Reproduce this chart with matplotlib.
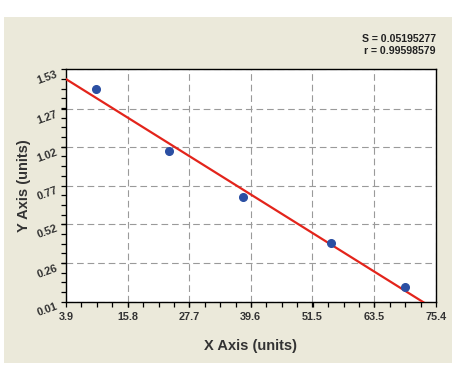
import numpy as np
import matplotlib
matplotlib.use("Agg")
import matplotlib.pyplot as plt
from matplotlib.patches import Rectangle

# Data
x_vals = [9.7, 23.8, 38.2, 55.2, 69.5]
y_vals = [1.40, 0.998, 0.697, 0.392, 0.104]
x_ticks = [3.9, 15.8, 27.7, 39.6, 51.5, 63.5, 75.4]
y_ticks = [0.01, 0.26, 0.52, 0.77, 1.02, 1.27, 1.53]
stat_lines = ["S = 0.05195277", "r = 0.99598579"]

plt.rcParams['font.family'] = ['Liberation Sans', 'DejaVu Sans']

W, H = 462, 380
fig = plt.figure(figsize=(W / 100, H / 100), dpi=100, facecolor='white')

# beige panel
panel = Rectangle((4 / W, 1 - 363 / H), 448 / W, 346 / H,
                  transform=fig.transFigure, facecolor='#EBE9DA',
                  edgecolor='none', zorder=-5)
fig.add_artist(panel)

ax = fig.add_axes([66 / W, 1 - 301.7 / H, 370 / W, 232.4 / H])
ax.set_zorder(5)
ax.set_facecolor('white')
ax.set_xlim(x_ticks[0], x_ticks[-1])
ax.set_ylim(y_ticks[0], y_ticks[-1])

ax.set_xticks(x_ticks)
ax.set_yticks(y_ticks)
n_sub = 4
ax.set_xticks(np.linspace(x_ticks[0], x_ticks[-1], (len(x_ticks) - 1) * n_sub + 1), minor=True)
ax.set_yticks(np.linspace(y_ticks[0], y_ticks[-1], (len(y_ticks) - 1) * n_sub + 1), minor=True)
ax.set_xticklabels([f"{v:.1f}" for v in x_ticks], fontsize=7.8, fontweight='bold', color='#333333')
ax.set_yticklabels([f"{v:.2f}" for v in y_ticks], fontsize=7.8, fontweight='bold', color='#333333',
                   rotation=20, rotation_mode='anchor', ha='right', va='top')
ax.tick_params(which='both', direction='out', length=3.5, width=0.9, color='black')
ax.tick_params(axis='x', pad=4)
ax.tick_params(axis='y', pad=4)

ax.grid(True, which='major', linestyle=(0, (6, 3.5)), color='#9a9a9a', linewidth=0.8)
ax.set_axisbelow(True)
for s in ax.spines.values():
    s.set_linewidth(1.0)
    s.set_color('black')

# regression line
coef = np.polyfit(x_vals, y_vals, 1)
xx = np.linspace(x_ticks[0], x_ticks[-1], 200)
ax.plot(xx, np.polyval(coef, xx), color='#E3241B', linewidth=1.6, zorder=3)

ax.plot(x_vals, y_vals, 'o', color='#2B4FA3', markersize=5.5, zorder=4)

ax.set_xlabel("X Axis (units)", fontsize=10.5, fontweight='bold', color='#333333', labelpad=12)
ax.set_ylabel("Y Axis (units)", fontsize=10.5, fontweight='bold', color='#333333', labelpad=3)

fig.text(436 / W, 1 - 41.7 / H, stat_lines[0], ha='right', va='baseline',
         fontsize=7.6, fontweight='bold', color='#222222')
fig.text(436 / W, 1 - 54.5 / H, stat_lines[1], ha='right', va='baseline',
         fontsize=7.6, fontweight='bold', color='#222222')

fig.savefig("out.png", dpi=100, facecolor='white')
